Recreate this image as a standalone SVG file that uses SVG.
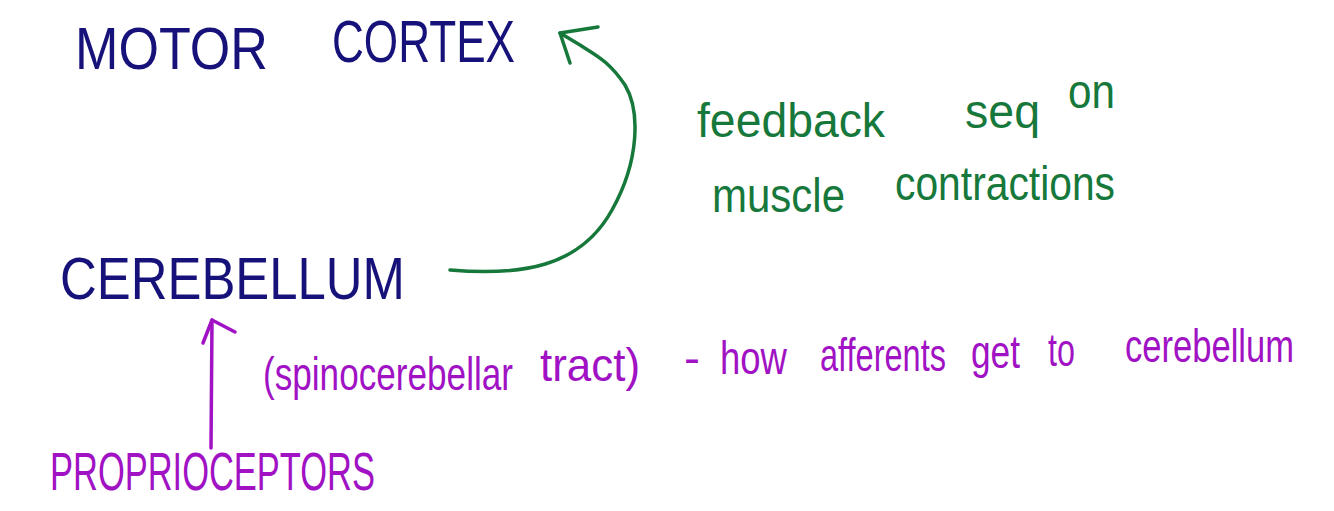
<svg xmlns="http://www.w3.org/2000/svg" width="1334" height="511" viewBox="0 0 1334 511">
<style>
.navy{fill:#16127a;font-family:"Liberation Sans","DejaVu Sans",sans-serif}
.green{fill:#16783a;font-family:"Liberation Sans","DejaVu Sans",sans-serif}
.purple{fill:#a012c4;font-family:"Liberation Sans","DejaVu Sans",sans-serif}
.ln{fill:none;stroke-width:3.5;stroke-linecap:round;stroke-linejoin:round}
</style>
<rect width="1334" height="511" fill="#ffffff"/>
<g id="motor-cortex">
<text class="navy" x="75" y="69" font-size="60" textLength="193" lengthAdjust="spacingAndGlyphs">MOTOR</text>
<text class="navy" x="332" y="62" font-size="60" textLength="183" lengthAdjust="spacingAndGlyphs">CORTEX</text>
</g>
<g id="cerebellum">
<text class="navy" x="60" y="299" font-size="60" textLength="345" lengthAdjust="spacingAndGlyphs">CEREBELLUM</text>
</g>
<g id="proprioceptors">
<text class="purple" x="50" y="490" font-size="54" textLength="325" lengthAdjust="spacingAndGlyphs">PROPRIOCEPTORS</text>
</g>
<g id="feedback-label">
<text class="green" x="697" y="137" font-size="48" textLength="188" lengthAdjust="spacingAndGlyphs">feedback</text>
<text class="green" x="965" y="128" font-size="48" textLength="75" lengthAdjust="spacingAndGlyphs">seq</text>
<text class="green" x="1068" y="108" font-size="48" textLength="47" lengthAdjust="spacingAndGlyphs">on</text>
<text class="green" x="712" y="212" font-size="48" textLength="133" lengthAdjust="spacingAndGlyphs">muscle</text>
<text class="green" x="895" y="200" font-size="48" textLength="220" lengthAdjust="spacingAndGlyphs">contractions</text>
</g>
<g id="tract-label">
<text class="purple" x="263" y="390" font-size="46" textLength="250" lengthAdjust="spacingAndGlyphs">(spinocerebellar</text>
<text class="purple" x="540" y="381" font-size="46" textLength="100" lengthAdjust="spacingAndGlyphs">tract)</text>
<text class="purple" x="684" y="374" font-size="46" textLength="16" lengthAdjust="spacingAndGlyphs">-</text>
<text class="purple" x="720" y="374" font-size="46" textLength="67" lengthAdjust="spacingAndGlyphs">how</text>
<text class="purple" x="820" y="371" font-size="46" textLength="126" lengthAdjust="spacingAndGlyphs">afferents</text>
<text class="purple" x="971" y="368" font-size="46" textLength="49" lengthAdjust="spacingAndGlyphs">get</text>
<text class="purple" x="1048" y="366" font-size="46" textLength="27" lengthAdjust="spacingAndGlyphs">to</text>
<text class="purple" x="1125" y="362" font-size="46" textLength="169" lengthAdjust="spacingAndGlyphs">cerebellum</text>
</g>
<g id="connectors">
<path class="ln" stroke="#16783a" d="M450,270 C520,276 580,268 612,210 C640,160 640,110 625,85 C608,60 595,55 580,45 L560,33"/>
<path class="ln" stroke="#16783a" d="M598,27 L560,33 L570,63"/>
<path class="ln" stroke="#a012c4" d="M211,448 L212,320"/>
<path class="ln" stroke="#a012c4" d="M203,343 L212,320 L235,332"/>
</g>
</svg>
